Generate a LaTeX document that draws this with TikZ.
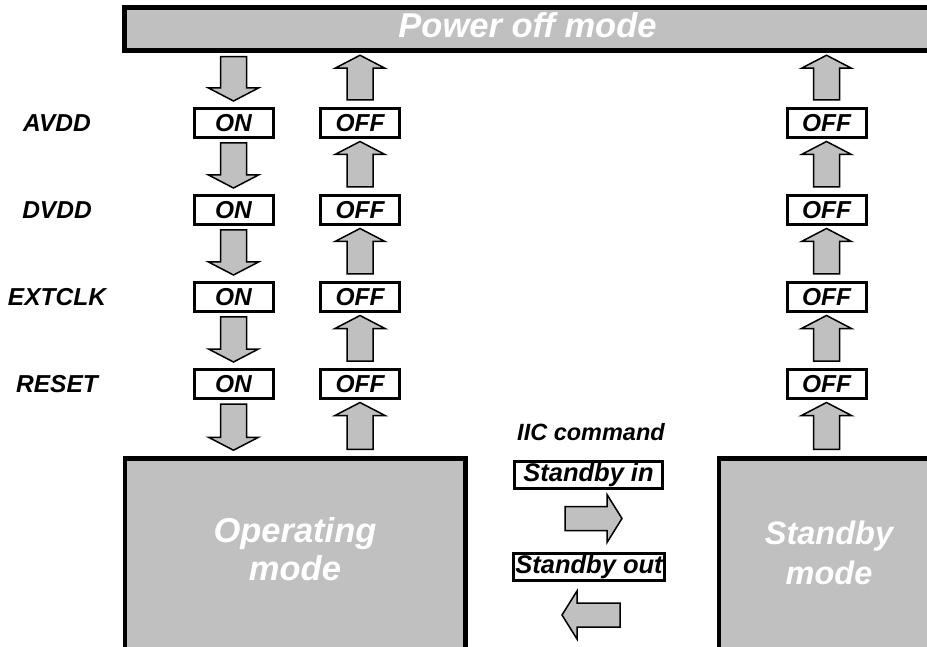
\documentclass[tikz,border=0pt]{standalone}
\usepackage{fontspec}
\setmainfont{Liberation Sans}
\usetikzlibrary{calc}
\definecolor{boxgray}{HTML}{C0C0C0}
\tikzset{
  big/.style={font=\fontsize{34.5}{38}\selectfont\bfseries\itshape, text=white, align=center, inner sep=0pt},
  modebox/.style={draw, line width=4.5pt, fill=boxgray, inner sep=0pt},
  statebox/.style={draw, line width=3pt, fill=white, minimum width=79pt, minimum height=29pt, inner sep=0pt,
    font=\fontsize{24.5}{28}\selectfont\bfseries\itshape, text height=17.6pt, text depth=0pt},
  cmdbox/.style={draw, line width=3pt, fill=white, minimum height=27pt, inner sep=0pt,
    font=\fontsize{25.5}{28}\selectfont\bfseries\itshape, text height=18.3pt, text depth=5.1pt},
  sig/.style={font=\fontsize{24.5}{28}\selectfont\bfseries\itshape, inner sep=0pt, text height=17.6pt, text depth=0pt},
  blk/.style={draw, line width=1.5pt, fill=boxgray, line join=miter},
}
\newcommand{\arrdown}[2]{\draw[blk] let \p1=(#1), \p2=(#2) in
  (\x1-13pt,\y1) -- (\x1+13pt,\y1) -- (\x1+13pt,\y2+13pt) -- (\x1+25pt,\y2+13pt) -- (\x1,\y2)
  -- (\x1-25pt,\y2+13pt) -- (\x1-13pt,\y2+13pt) -- cycle;}
\newcommand{\arrup}[2]{\draw[blk] let \p1=(#1), \p2=(#2) in
  (\x1-13pt,\y1) -- (\x1+13pt,\y1) -- (\x1+13pt,\y2-13pt) -- (\x1+25pt,\y2-13pt) -- (\x1,\y2)
  -- (\x1-25pt,\y2-13pt) -- (\x1-13pt,\y2-13pt) -- cycle;}
\newcommand{\arrright}[2]{\draw[blk] let \p1=(#1), \p2=(#2) in
  (\x1,\y1-12pt) -- (\x2-15pt,\y1-12pt) -- (\x2-15pt,\y1-24pt) -- (\x2,\y1) -- (\x2-15pt,\y1+24pt)
  -- (\x2-15pt,\y1+12pt) -- (\x1,\y1+12pt) -- cycle;}
\newcommand{\arrleft}[2]{\draw[blk] let \p1=(#1), \p2=(#2) in
  (\x1,\y1-12pt) -- (\x2+15pt,\y1-12pt) -- (\x2+15pt,\y1-24pt) -- (\x2,\y1) -- (\x2+15pt,\y1+24pt)
  -- (\x2+15pt,\y1+12pt) -- (\x1,\y1+12pt) -- cycle;}
\begin{document}
\begin{tikzpicture}[x=1pt,y=-1pt]
\useasboundingbox (0,0) rectangle (927,647);
\clip (0,0) rectangle (927,647);
% mode boxes
\node[modebox, minimum width=806pt, minimum height=43pt, font=\fontsize{34.5}{38}\selectfont\bfseries\itshape,
  text=white, text height=24.8pt, text depth=6.9pt] (poweroff) at (527.5,29) {Power off mode};
\node[modebox, minimum width=340.5pt, minimum height=220pt] (op) at (295.25,568.5) {};
\node[modebox, minimum width=250pt, minimum height=220pt] (sb) at (844,568.5) {};
\node[big] (optext) at (295,549.5) {Operating\\mode};
\node[big, font=\fontsize{32.5}{40}\selectfont\bfseries\itshape] (sbtext) at (829,553) {Standby\\mode};
% signal labels
\node[sig] (avdd) at (57,123) {AVDD};
\node[sig] (dvdd) at (57,210) {DVDD};
\node[sig] (extclk) at (57,297) {EXTCLK};
\node[sig] (reset) at (57,384) {RESET};
% state boxes
\foreach \r/\y in {1/123,2/210,3/297,4/384}{
  \node[statebox] (on\r) at (233.5,\y) {ON};
  \node[statebox] (off\r) at (360,\y) {OFF};
  \node[statebox] (sf\r) at (826.5,\y) {OFF};
}
% power-on sequence (down)
\arrdown{$(on1.north |- poweroff.south)+(0,4)$}{$(on1.north)+(0,-6)$}
\arrdown{$(on1.south)+(0,4)$}{$(on2.north)+(0,-6)$}
\arrdown{$(on2.south)+(0,4)$}{$(on3.north)+(0,-6)$}
\arrdown{$(on3.south)+(0,4)$}{$(on4.north)+(0,-6)$}
\arrdown{$(on4.south)+(0,4)$}{$(on4.south |- op.north)+(0,-6)$}
% power-off sequence from operating (up)
\arrup{$(off4.south |- op.north)+(0,-7)$}{$(off4.south)+(0,2.5)$}
\arrup{$(off4.north)+(0,-7)$}{$(off3.south)+(0,2.5)$}
\arrup{$(off3.north)+(0,-7)$}{$(off2.south)+(0,2.5)$}
\arrup{$(off2.north)+(0,-7)$}{$(off1.south)+(0,2.5)$}
\arrup{$(off1.north)+(0,-7)$}{$(off1.north |- poweroff.south)+(0,2.5)$}
% power-off sequence from standby (up)
\arrup{$(sf4.south |- sb.north)+(0,-7)$}{$(sf4.south)+(0,2.5)$}
\arrup{$(sf4.north)+(0,-7)$}{$(sf3.south)+(0,2.5)$}
\arrup{$(sf3.north)+(0,-7)$}{$(sf2.south)+(0,2.5)$}
\arrup{$(sf2.north)+(0,-7)$}{$(sf1.south)+(0,2.5)$}
\arrup{$(sf1.north)+(0,-7)$}{$(sf1.north |- poweroff.south)+(0,2.5)$}
% IIC commands
\node[sig, font=\fontsize{23.5}{28}\selectfont\bfseries\itshape] (iic) at (591,432) {IIC command};
\node[cmdbox, minimum width=148pt] (sin) at (588.5,474.5) {Standby in};
\node[cmdbox, minimum width=151pt] (sout) at (589,567) {Standby out};
\coordinate (inTail) at (565,518.5);
\coordinate (inTip) at (622,518.5);
\coordinate (outTail) at (620,615);
\coordinate (outTip) at (562,615);
\arrright{inTail}{inTip}
\arrleft{outTail}{outTip}
\end{tikzpicture}
\end{document}
